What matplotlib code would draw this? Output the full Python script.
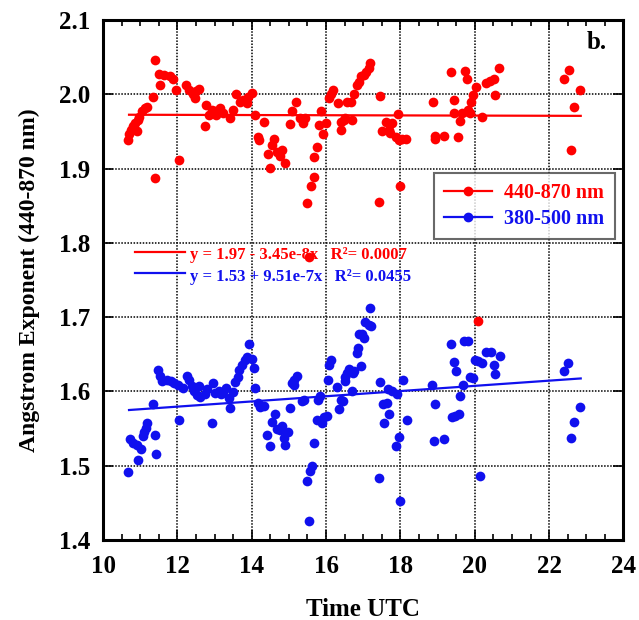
import numpy as np
import matplotlib
matplotlib.use('Agg')
import matplotlib.pyplot as plt
from matplotlib.lines import Line2D

plt.rcParams['font.family'] = ['Liberation Serif', 'DejaVu Serif']
plt.rcParams['font.weight'] = 'bold'

# Angstrom exponent, 440-870 nm (time in hours UTC)
t_440 = [10.67, 10.71, 10.76, 10.80, 10.85, 10.91, 10.94, 10.98, 11.05, 11.12,
         11.18, 11.34, 11.39, 11.41, 11.50, 11.54, 11.65, 11.79, 11.88, 11.95,
         12.04, 12.24, 12.32, 12.42, 12.47, 12.51, 12.59, 12.74, 12.78, 12.86,
         12.92, 13.01, 13.05, 13.16, 13.23, 13.41, 13.50, 13.59, 13.68, 13.77,
         13.86, 13.91, 14.00, 14.09, 14.16, 14.20, 14.32, 14.43, 14.50, 14.54,
         14.59, 14.68, 14.77, 14.81, 14.89, 15.02, 15.08, 15.20, 15.31, 15.37,
         15.44, 15.50, 15.53, 15.59, 15.67, 15.68, 15.76, 15.80, 15.86, 15.92,
         16.00, 16.07, 16.14, 16.19, 16.32, 16.39, 16.41, 16.48, 16.52, 16.57,
         16.66, 16.70, 16.76, 16.82, 16.88, 16.94, 17.01, 17.08, 17.15, 17.17,
         17.42, 17.44, 17.51, 17.60, 17.69, 17.73, 17.78, 17.87, 17.93, 17.96,
         18.00, 18.04, 18.16, 18.88, 18.92, 18.94, 19.18, 19.35, 19.43, 19.45,
         19.54, 19.60, 19.66, 19.75, 19.79, 19.81, 19.88, 19.90, 19.96, 20.02,
         20.08, 20.20, 20.31, 20.40, 20.51, 20.54, 20.66, 22.41, 22.53, 22.59,
         22.66, 22.84]
ae_440 = [1.939, 1.946, 1.952, 1.957, 1.962, 1.951, 1.966, 1.970, 1.977, 1.981,
          1.983, 1.996, 1.888, 2.046, 2.028, 2.013, 2.026, 2.025, 2.021, 2.006,
          1.911, 2.013, 2.006, 2.001, 1.995, 2.004, 2.007, 1.958, 1.986, 1.972,
          1.979, 1.977, 1.972, 1.981, 1.975, 1.968, 1.979, 2.000, 1.990, 1.993,
          1.988, 1.997, 2.002, 1.972, 1.943, 1.938, 1.963, 1.920, 1.901, 1.932,
          1.940, 1.923, 1.917, 1.925, 1.907, 1.960, 1.977, 1.990, 1.968, 1.961,
          1.968, 1.854, 1.781, 1.876, 1.889, 1.916, 1.929, 1.959, 1.977, 1.947,
          1.962, 1.995, 2.001, 2.006, 1.988, 1.963, 1.952, 1.966, 1.968, 1.990,
          1.990, 1.966, 2.001, 2.013, 2.017, 2.024, 2.026, 2.030, 2.035, 2.042,
          1.855, 1.998, 1.950, 1.963, 1.952, 1.948, 1.961, 1.943, 1.974, 1.939,
          1.876, 1.940, 1.940, 1.989, 1.944, 1.940, 1.944, 2.030, 1.992, 1.975,
          1.943, 1.964, 1.975, 2.031, 2.021, 1.979, 1.975, 1.990, 1.999, 2.010,
          1.695, 1.969, 2.015, 2.018, 2.021, 1.999, 2.035, 2.021, 2.033, 1.925,
          1.983, 2.006]

# Angstrom exponent, 380-500 nm
t_380 = [10.68, 10.72, 10.81, 10.92, 10.93, 11.01, 11.07, 11.10, 11.15, 11.19,
         11.35, 11.40, 11.43, 11.49, 11.53, 11.60, 11.71, 11.82, 11.91, 12.01,
         12.05, 12.16, 12.27, 12.32, 12.39, 12.45, 12.52, 12.57, 12.61, 12.75,
         12.79, 12.93, 12.95, 13.02, 13.11, 13.17, 13.24, 13.31, 13.40, 13.42,
         13.51, 13.55, 13.62, 13.67, 13.73, 13.82, 13.87, 13.93, 14.00, 14.07,
         14.09, 14.16, 14.23, 14.32, 14.41, 14.50, 14.54, 14.63, 14.68, 14.77,
         14.81, 14.86, 14.90, 14.97, 15.02, 15.08, 15.13, 15.14, 15.22, 15.35,
         15.41, 15.50, 15.53, 15.57, 15.61, 15.68, 15.75, 15.79, 15.84, 15.88,
         15.95, 16.02, 16.04, 16.09, 16.14, 16.30, 16.35, 16.41, 16.46, 16.50,
         16.52, 16.57, 16.61, 16.64, 16.70, 16.73, 16.75, 16.82, 16.85, 16.89,
         16.93, 16.97, 17.02, 17.06, 17.15, 17.18, 17.21, 17.42, 17.44, 17.53,
         17.57, 17.63, 17.66, 17.69, 17.78, 17.87, 17.91, 17.96, 18.00, 18.07,
         18.18, 18.85, 18.91, 18.94, 19.18, 19.36, 19.39, 19.43, 19.48, 19.50,
         19.57, 19.61, 19.68, 19.72, 19.81, 19.88, 19.95, 20.01, 20.10, 20.15,
         20.19, 20.31, 20.43, 20.51, 20.55, 20.67, 22.40, 22.52, 22.58, 22.66,
         22.84]
ae_380 = [1.492, 1.536, 1.530, 1.528, 1.508, 1.522, 1.540, 1.545, 1.551, 1.558,
          1.583, 1.542, 1.516, 1.629, 1.621, 1.614, 1.616, 1.614, 1.612, 1.609,
          1.562, 1.605, 1.621, 1.616, 1.607, 1.600, 1.595, 1.607, 1.593, 1.596,
          1.603, 1.557, 1.612, 1.598, 1.600, 1.596, 1.599, 1.605, 1.591, 1.578,
          1.599, 1.613, 1.620, 1.629, 1.636, 1.643, 1.647, 1.664, 1.644, 1.632,
          1.605, 1.585, 1.579, 1.580, 1.542, 1.526, 1.559, 1.570, 1.550, 1.548,
          1.553, 1.538, 1.528, 1.545, 1.578, 1.612, 1.616, 1.609, 1.621, 1.587,
          1.589, 1.480, 1.425, 1.493, 1.500, 1.530, 1.562, 1.589, 1.594, 1.558,
          1.565, 1.567, 1.616, 1.636, 1.643, 1.606, 1.576, 1.588, 1.587, 1.620,
          1.614, 1.625, 1.630, 1.627, 1.600, 1.625, 1.627, 1.652, 1.659, 1.677,
          1.634, 1.677, 1.672, 1.694, 1.690, 1.712, 1.688, 1.484, 1.613, 1.583,
          1.557, 1.585, 1.603, 1.570, 1.600, 1.526, 1.596, 1.539, 1.453, 1.615,
          1.562, 1.609, 1.533, 1.583, 1.536, 1.664, 1.566, 1.639, 1.567, 1.627,
          1.569, 1.594, 1.609, 1.668, 1.668, 1.620, 1.618, 1.643, 1.641, 1.486,
          1.638, 1.653, 1.653, 1.636, 1.623, 1.648, 1.627, 1.638, 1.538, 1.559,
          1.579]

# linear fits, evaluated at the first and last sample time
fit_t = [10.7, 22.85]
fit_440 = [1.9725, 1.9710]
fit_380 = [1.5750, 1.6175]

eq_440 = 'y = 1.97 - 3.45e-8x   R²= 0.0007'
eq_380 = 'y = 1.53 + 9.51e-7x   R²= 0.0455'

RED = '#ff0000'
BLUE = '#1010ee'

fig = plt.figure(figsize=(6.39, 6.20), dpi=100)
ax = fig.add_axes([0.1612, 0.1290, 0.8145, 0.8387])

ax.plot(t_440, ae_440, 'o', color=RED, ms=7.0, mec='none', zorder=3)
ax.plot(t_380, ae_380, 'o', color=BLUE, ms=7.0, mec='none', zorder=3)
ax.plot(fit_t, fit_440, '-', color=RED, lw=1.6, zorder=2)
ax.plot(fit_t, fit_380, '-', color=BLUE, lw=1.6, zorder=2)

ax.set_xlim(10, 24)
ax.set_ylim(1.4, 2.1)
ax.set_xticks(np.arange(10, 25, 2))
ax.set_xticks(np.arange(10, 24.01, 0.5), minor=True)
ax.set_yticks(np.arange(1.4, 2.11, 0.1))
ax.set_yticklabels([f'{v:.1f}' for v in np.arange(1.4, 2.11, 0.1)])

ax.grid(True, which='major', color='black', linestyle=(0, (1, 1)), lw=1.1)
ax.tick_params(which='both', direction='in', top=True, right=True,
               labelsize=18, width=1.2)
ax.tick_params(which='major', length=7, pad=9)
ax.tick_params(which='minor', length=4)
ax.tick_params(axis='x', which='major', pad=11)
for s in ax.spines.values():
    s.set_linewidth(2.2)

ax.set_xlabel('Time UTC', fontsize=18, fontweight='bold', labelpad=14)
ax.set_ylabel('Angstrom Exponent (440-870 nm)', fontsize=17, fontweight='bold', labelpad=14)

ax.text(0.968, 0.978, 'b.', transform=ax.transAxes, ha='right', va='top',
        fontsize=18, fontweight='bold')

# fit equations with short line keys
ax.plot([10.86, 12.2], [1.788, 1.788], '-', color=RED, lw=1.6)
ax.plot([10.86, 12.2], [1.759, 1.759], '-', color=BLUE, lw=1.6)
ax.text(12.35, 1.784, eq_440, color=RED, fontsize=12, fontweight='bold', va='center')
ax.text(12.35, 1.754, eq_380, color=BLUE, fontsize=12, fontweight='bold', va='center')

handles = [Line2D([], [], color=RED, marker='o', ms=6, lw=1.6),
           Line2D([], [], color=BLUE, marker='o', ms=6, lw=1.6)]
leg = ax.legend(handles, ['440-870 nm', '380-500 nm'], loc='upper right',
                bbox_to_anchor=(0.983, 0.706), numpoints=1, handlelength=2.4,
                fontsize=14.5, frameon=True, fancybox=False, borderpad=0.5,
                labelspacing=0.3, handletextpad=0.6, borderaxespad=0)
leg.get_frame().set_edgecolor('#444444')
leg.get_frame().set_linewidth(1.5)
for txt, c in zip(leg.get_texts(), [RED, BLUE]):
    txt.set_color(c)
    txt.set_fontweight('bold')

fig.savefig('out.png', dpi=100)
